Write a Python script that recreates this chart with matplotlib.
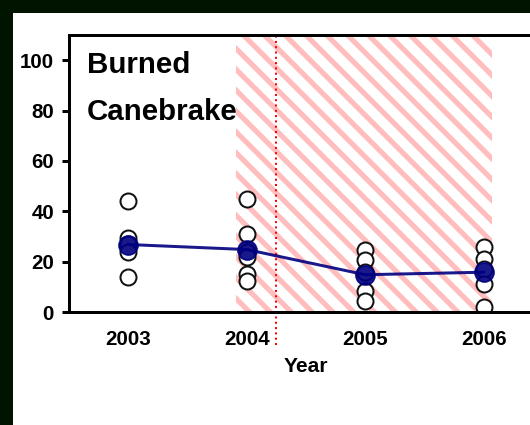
import matplotlib
matplotlib.use("Agg")
import matplotlib.pyplot as plt
from matplotlib.patches import Rectangle

# --- data ---
years = [2003, 2004, 2005, 2006]
plot_values = [
    [44, 29.5, 27, 24, 14],
    [45, 31, 24, 22, 15, 12.5],
    [24.5, 20.5, 16, 8.5, 4.5],
    [26, 21, 17, 11, 2],
]
mean_values = [26.8, 24.8, 14.8, 15.8]
burn_start, burn_end = 2003.91, 2006.07
burn_date = 2004.25
yticks = [0, 20, 40, 60, 80, 100]

DPI = 125
PT = 72 / DPI  # px -> pt

plt.rcParams['font.family'] = ['Liberation Sans', 'DejaVu Sans']
plt.rcParams['font.weight'] = 'bold'
plt.rcParams['hatch.linewidth'] = 5.2 * PT

fig = plt.figure(figsize=(530 / DPI, 425 / DPI), dpi=DPI, facecolor='#001400')
fig.patches.append(Rectangle((13 / 530, 0), 1 - 13 / 530, (425 - 13) / 425,
                             transform=fig.transFigure, facecolor='white',
                             edgecolor='none', zorder=-1))

ax = fig.add_axes([69 / 530, 113 / 425, 474 / 530, 277 / 425])
ax.set_facecolor('none')

# burned period (hatched)
ax.axvspan(burn_start, burn_end, facecolor='white', edgecolor='#ffbdbd',
           hatch='\\\\', linewidth=0, zorder=0.5)
# burn date
ax.axvline(burn_date, ymin=-0.12, ymax=1, color='red', ls=':',
           lw=2 * PT, clip_on=False, zorder=1)

for yr, vals in zip(years, plot_values):
    ax.plot([yr] * len(vals), vals, 'o', ms=16 * PT, mfc='white',
            mec='#111111', mew=2 * PT, ls='none', zorder=2)

ax.plot(years, mean_values, '-o', color='#000080', lw=3 * PT, ms=19 * PT,
        alpha=0.9, zorder=3)

ax.set_xlim(2002.5, 2006.5)
ax.set_ylim(0, 110)
ax.set_xticks(years)
ax.set_xticklabels([str(y) for y in years])
ax.set_yticks(yticks)

for s in ['top', 'bottom', 'left', 'right']:
    ax.spines[s].set_linewidth(3 * PT)
ax.spines['right'].set_visible(False)

ax.tick_params(axis='x', length=0, pad=10.5, labelsize=20.5 * PT)
ax.tick_params(axis='y', length=7 * PT, width=3 * PT, pad=4.6,
               labelsize=20.5 * PT, direction='out')

ax.set_xlabel('Year', fontsize=21 * PT, fontweight='bold', labelpad=4.6)

ax.text(0.038, 0.942, 'Burned\nCanebrake', transform=ax.transAxes,
        ha='left', va='top', fontsize=29.5 * PT, fontweight='bold',
        linespacing=1.85)

fig.savefig('out.png', dpi=DPI, facecolor=fig.get_facecolor())
